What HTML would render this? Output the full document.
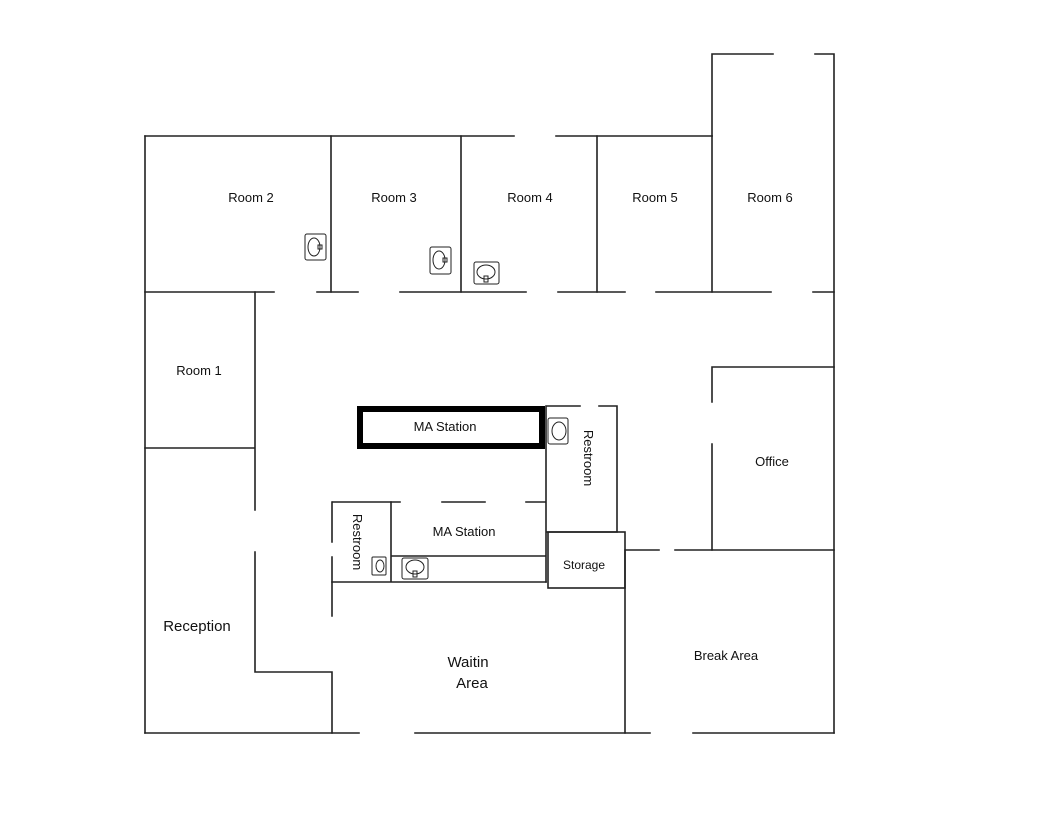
<!DOCTYPE html>
<html><head><style>body{margin:0;background:#fff}svg{display:block}text{font-family:"Liberation Sans",sans-serif;fill:#111}</style></head><body>
<svg width="1056" height="816" viewBox="0 0 1056 816" xmlns="http://www.w3.org/2000/svg">
<g stroke="#222" stroke-width="1.6" fill="none" stroke-linecap="square">
<!-- top -->
<path d="M145 136H514M556 136H712"/>
<path d="M712 136V54H773M815 54H834V733"/>
<path d="M145 136V733"/>
<path d="M331 136V292M461 136V292M597 136V292M712 136V292"/>
<!-- corridor line -->
<path d="M145 292H274M317 292H358M400 292H526M558 292H625M656 292H771M813 292H834"/>
<!-- room1 -->
<path d="M255 292V510M145 448H255M255 552V672H332V733"/>
<path d="M145 733H359M415 733H650M693 733H834"/>
<!-- break area / office -->
<path d="M625 550V733M625 550H659M675 550H834"/>
<path d="M712 367H834M712 367V402M712 444V550"/>
<!-- upper restroom -->
<path d="M546 406H580M599 406H617V532H546M546 406V582"/>
<rect x="548" y="532" width="77" height="56"/>
<!-- lower MA -->
<path d="M333 502H400M442 502H485M526 502H545"/>
<path d="M332 502V542M332 557V616"/>
<path d="M391 502V582M332 582H546M392 556H545"/>
</g>
<rect x="360" y="409" width="182" height="37" fill="none" stroke="#000" stroke-width="6"/>
<!-- sinks -->
<g stroke="#222" stroke-width="1" fill="none">
<rect x="305" y="234" width="21" height="26" rx="2"/><ellipse cx="314" cy="247" rx="6" ry="9"/><rect x="318" y="245" width="4" height="4"/>
<rect x="430" y="247" width="21" height="27" rx="2"/><ellipse cx="439" cy="260" rx="6" ry="9"/><rect x="443" y="258" width="4" height="4"/>
<rect x="474" y="262" width="25" height="22" rx="2"/><ellipse cx="486" cy="272" rx="9" ry="7"/><rect x="484" y="276" width="4" height="6"/>
<rect x="548" y="418" width="20" height="26" rx="2"/><ellipse cx="559" cy="431" rx="7" ry="9"/>
<rect x="372" y="557" width="14" height="18" rx="1"/><ellipse cx="380" cy="566" rx="4" ry="6"/>
<rect x="402" y="558" width="26" height="21" rx="2"/><ellipse cx="415" cy="567" rx="9" ry="7"/><rect x="413" y="571" width="4" height="6"/>
</g>
<g font-size="13" text-anchor="middle">
<text x="251" y="202">Room 2</text>
<text x="394" y="202">Room 3</text>
<text x="530" y="202">Room 4</text>
<text x="655" y="202">Room 5</text>
<text x="770" y="202">Room 6</text>
<text x="199" y="375">Room 1</text>
<text x="445" y="431">MA Station</text>
<text x="772" y="466">Office</text>
<text x="464" y="536">MA Station</text>
<text x="584" y="569" font-size="12">Storage</text>
<text x="726" y="660">Break Area</text>
<text x="197" y="631" font-size="15">Reception</text>
<text x="468" y="667" font-size="15">Waitin</text>
<text x="472" y="688" font-size="15">Area</text>
<text transform="translate(584,458) rotate(90)" font-size="13">Restroom</text>
<text transform="translate(353,542) rotate(90)" font-size="13">Restroom</text>
</g>
</svg>
</body></html>
